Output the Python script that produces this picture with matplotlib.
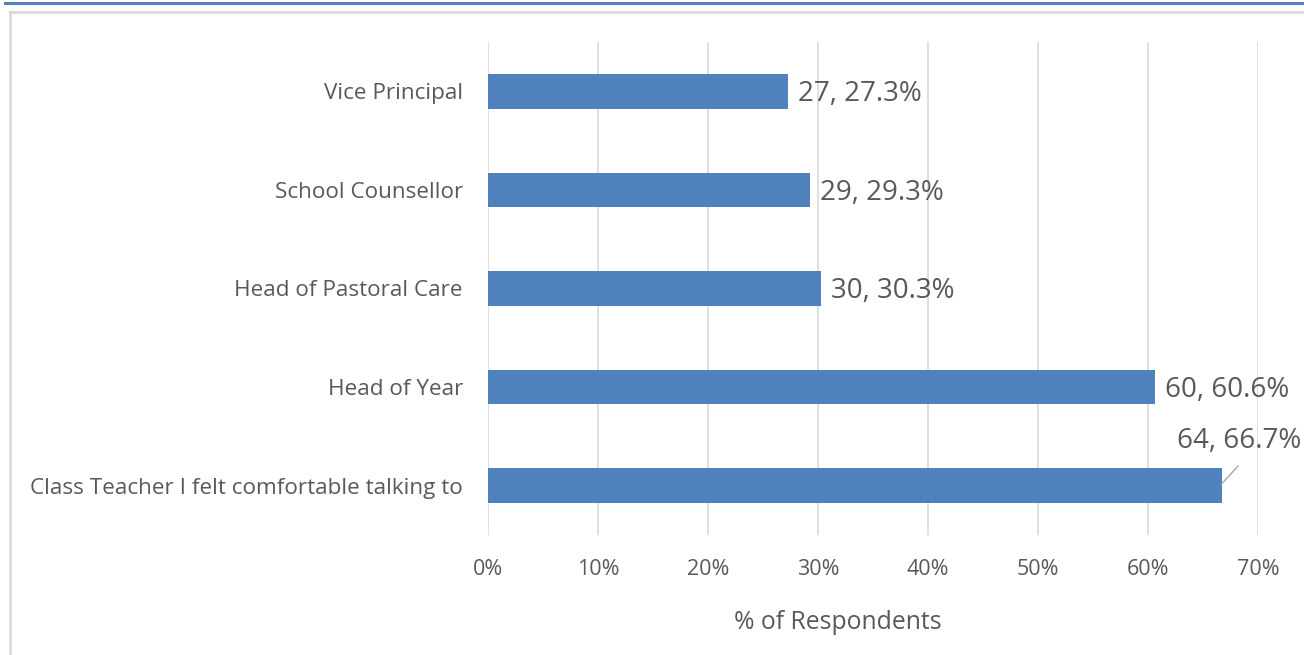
import matplotlib.pyplot as plt
from matplotlib.lines import Line2D
import numpy as np

categories = ["Class Teacher I felt comfortable talking to", "Head of Year",
              "Head of Pastoral Care", "School Counsellor", "Vice Principal"]
counts = [64, 60, 30, 29, 27]
percents = [66.7, 60.6, 30.3, 29.3, 27.3]

plt.rcParams['font.family'] = ['Open Sans', 'DejaVu Sans']
text_col = "#595959"

fig = plt.figure(figsize=(13.04, 6.55), dpi=100)
ax = fig.add_axes([488/1304, 1-535/655, (1258-488)/1304, (535-42)/655])

y = np.arange(len(categories))
bars = ax.barh(y, percents, height=0.35, color="#4F81BD", zorder=3)

ax.set_xlim(0, 70)
ax.set_ylim(-0.5, len(categories) - 0.5)
ax.set_xticks(np.arange(0, 71, 10))
ax.set_xticklabels([f"{v}%" for v in range(0, 71, 10)])
ax.set_yticks(y)
ax.set_yticklabels(categories)
ax.tick_params(axis="both", length=0, colors=text_col)
ax.tick_params(axis="x", pad=17, labelsize=15.5)
ax.tick_params(axis="y", pad=18, labelsize=16.2)
ax.grid(axis="x", color="#D9D9D9", linewidth=1.2, zorder=0)
for s in ax.spines.values():
    s.set_visible(False)

ax.set_xlabel("% of Respondents", fontsize=17.8, color=text_col, labelpad=22)
ax.xaxis.label.set_x(0.4545)

for i, (c, p) in enumerate(zip(counts, percents)):
    lab = f"{c}, {p}%"
    if i == 0:
        # label sits above the bar end with a short leader line
        ax.text(68.3, i + 0.45, lab, fontsize=20, color=text_col,
                ha="center", va="center")
        ax.plot([p, p + 1.5], [i + 0.02, i + 0.2], color="#A6A6A6", lw=1, zorder=4)
    else:
        ax.text(p + 0.9, i - 0.03, lab, fontsize=20, color=text_col,
                va="center", ha="left")

# frame decorations
fig.add_artist(Line2D([5/1304, 1], [1-3/655, 1-3/655], color="#4F81BD", lw=2.2))
fig.add_artist(Line2D([10/1304, 1], [1-12/655, 1-12/655], color="#D9D9D9", lw=2))
fig.add_artist(Line2D([10/1304, 10/1304], [0, 1-12/655], color="#D9D9D9", lw=2))

fig.savefig("out.png", dpi=100)
